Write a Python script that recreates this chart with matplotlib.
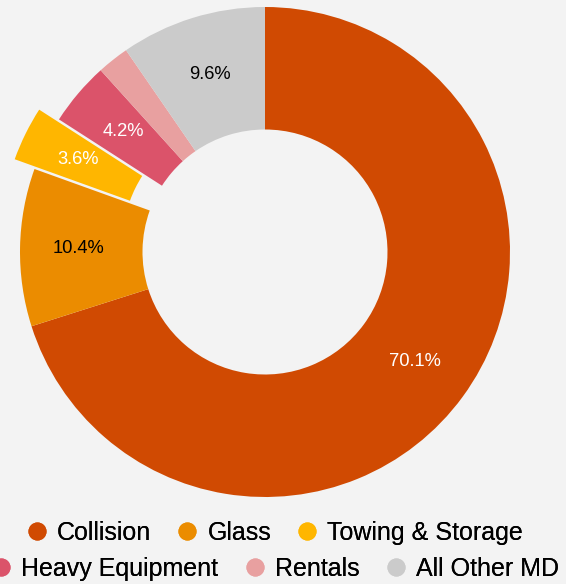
import numpy as np
import matplotlib.pyplot as plt
from matplotlib.lines import Line2D

plt.rcParams['font.family'] = ['Liberation Sans', 'DejaVu Sans']

categories = ['Collision', 'Glass', 'Towing & Storage', 'Heavy Equipment', 'Rentals', 'All Other MD']
shares = [70.1, 10.4, 3.6, 4.2, 2.1, 9.6]
colors = ['#d04a02', '#eb8c00', '#ffb600', '#db536a', '#e8a0a0', '#cbcbcb']
label_colors = ['white', 'black', 'white', 'white', None, 'black']
explode = [0, 0, 0.09, 0, 0, 0]

bg = '#f3f3f3'
W, H = 566, 584
cx, cy, R = 265, 252, 245  # pixel centre and radius of the ring

fig = plt.figure(figsize=(W / 100, H / 100), dpi=100, facecolor=bg)
ax = fig.add_axes([0, 0, 1, 1])
ax.set_facecolor(bg)

wedges, _ = ax.pie(shares, colors=colors, startangle=90, counterclock=False,
                   explode=explode, radius=1.0,
                   wedgeprops=dict(width=0.5, linewidth=0))

for w, val, lc in zip(wedges, shares, label_colors):
    if lc is None:
        continue
    ang = np.deg2rad((w.theta1 + w.theta2) / 2)
    r = 0.76
    x = w.center[0] + r * np.cos(ang)
    y = w.center[1] + r * np.sin(ang)
    ax.text(x, y, f'{val:.1f}%', ha='center', va='center', fontsize=13.2, color=lc)

ax.set_xlim(-cx / R, (W - cx) / R)
ax.set_ylim(-(H - cy) / R, cy / R)
ax.set_aspect('auto')
ax.axis('off')

handles = [Line2D([], [], marker='o', linestyle='none', markersize=12,
                  markerfacecolor=c, markeredgecolor=c) for c in colors]

rows = [(0, 3, 533), (3, 6, 569)]
for a, b, ypix in rows:
    leg = fig.legend(handles[a:b], categories[a:b], loc='center',
                     bbox_to_anchor=(275 / W, 1 - ypix / H), ncol=3,
                     frameon=False, fontsize=18, handlelength=0.8,
                     handletextpad=0.4, columnspacing=1.05, borderaxespad=0)
    fig.add_artist(leg)

fig.savefig('out.png', dpi=100, facecolor=bg)
